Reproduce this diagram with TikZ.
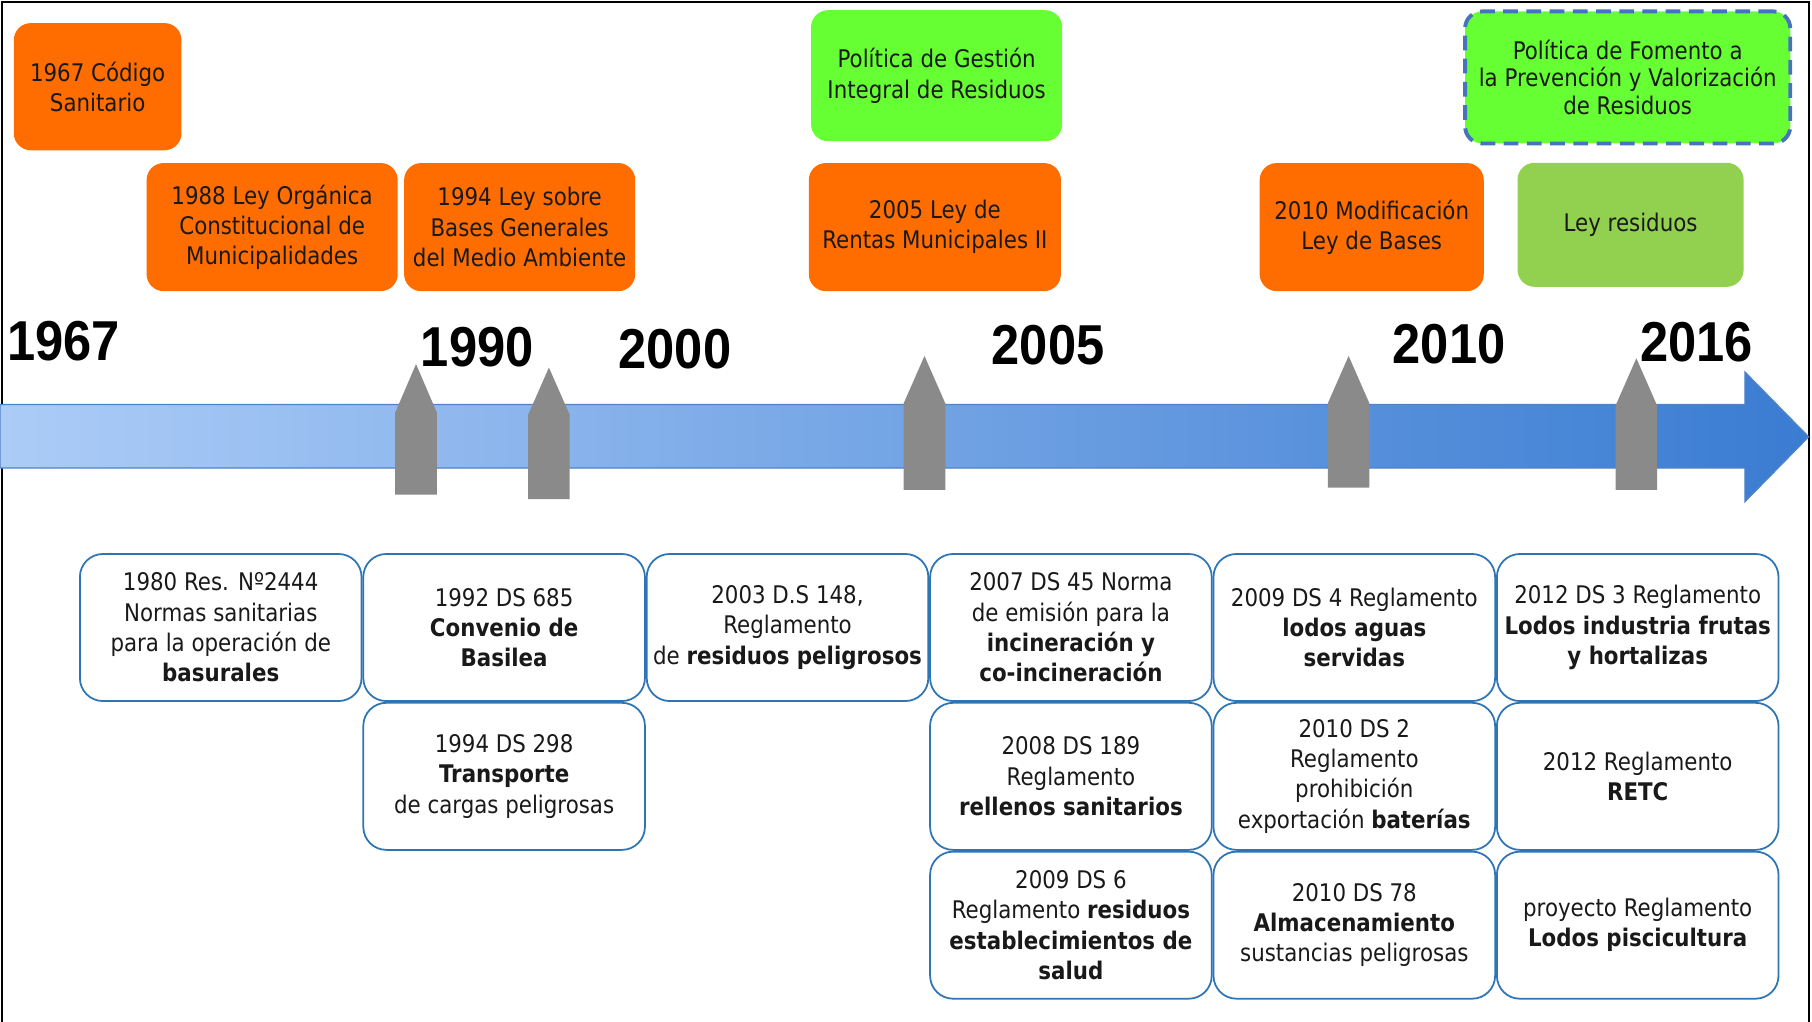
\documentclass[tikz,border=0pt]{standalone}
\usepackage{fontspec}
\setmainfont{DejaVu Sans}[FakeStretch=0.88]
\newfontfamily\yearfont{Liberation Sans}[FakeStretch=0.9]
\usetikzlibrary{positioning}
\definecolor{laworange}{RGB}{255,108,0}
\definecolor{polgreen}{RGB}{102,255,51}
\definecolor{leygreen}{RGB}{146,208,80}
\definecolor{boxblue}{RGB}{46,117,182}
\definecolor{dashblue}{RGB}{70,115,190}
\definecolor{arrowlight}{RGB}{172,204,247}
\definecolor{arrowdark}{RGB}{58,124,210}
\definecolor{arrowedge}{RGB}{80,130,200}
\definecolor{markgray}{RGB}{138,138,138}
\definecolor{txtdark}{RGB}{25,25,25}

\begin{document}
\begin{tikzpicture}[
    x=0.011556cm, y=-0.011556cm,
    topbox/.style={rectangle, rounded corners=0.17cm, fill=laworange, text=txtdark, align=center, inner sep=0pt, font=\fontsize{6.9}{8.6}\selectfont},
    normbox/.style={rectangle, rounded corners=0.23cm, draw=boxblue, line width=0.5pt, fill=white, text=txtdark, align=center, inner sep=0pt, minimum width=2.815cm, minimum height=1.47cm, font=\fontsize{6.9}{8.6}\selectfont},
    yearlabel/.style={inner sep=0pt, font=\yearfont\bfseries\fontsize{16}{16}\selectfont},
]
\useasboundingbox (0,0) rectangle (1568,884);
\draw[line width=0.6pt] (1.5,884) -- (1.5,1.5) -- (1565.5,1.5) -- (1565.5,884);

\shadedraw[left color=arrowlight, right color=arrowdark, draw=arrowedge, line width=0.4pt] (0,350) -- (1510,350) -- (1510,322) -- (1565,378) -- (1510,434) -- (1510,405) -- (0,405) -- cycle;

\fill[markgray] (342,357) -- (360,315) -- (378,357) -- (378,428) -- (342,428) -- cycle;
\fill[markgray] (457,359) -- (475,318) -- (493,359) -- (493,432) -- (457,432) -- cycle;
\fill[markgray] (782,349) -- (800,308) -- (818,349) -- (818,424) -- (782,424) -- cycle;
\fill[markgray] (1149,349) -- (1167,308) -- (1185,349) -- (1185,422) -- (1149,422) -- cycle;
\fill[markgray] (1398,351) -- (1416,310) -- (1434,351) -- (1434,424) -- (1398,424) -- cycle;

\node[yearlabel](y1967) at (55,295) {1967};
\node[yearlabel](y1990) at (413,300) {1990};
\node[yearlabel](y2000) at (584,302) {2000};
\node[yearlabel](y2005) at (907,299) {2005};
\node[yearlabel](y2010) at (1254,298) {2010};
\node[yearlabel](y2016) at (1468,296) {2016};

\node[topbox, minimum width=1.676cm, minimum height=1.271cm](cod67) at (84.5,75) {1967 Código\\Sanitario};
\node[topbox, minimum width=2.51cm, minimum height=1.28cm](loc88) at (235.5,196.5) {1988 Ley Orgánica\\Constitucional de\\Municipalidades};
\node[topbox, minimum width=2.31cm, minimum height=1.28cm](lbma94)[right = 0.05cm of loc88] {1994 Ley sobre\\Bases Generales\\del Medio Ambiente};
\node[topbox, fill=polgreen, minimum width=2.51cm, minimum height=1.31cm](pgir) at (810.5,65.5) {Política de Gestión\\Integral de Residuos};
\node[topbox, minimum width=2.52cm, minimum height=1.28cm](rentas05) at (809,196.5) {2005 Ley de\\Rentas Municipales II};
\node[topbox, minimum width=2.24cm, minimum height=1.28cm](modbases10) at (1187,196.5) {2010 Modificación\\Ley de Bases};
\node[topbox, fill=leygreen, minimum width=2.26cm, minimum height=1.24cm](leyres) at (1411,194.5) {Ley residuos};
\node[topbox, fill=polgreen, draw=dashblue, line width=1.1pt, dash pattern=on 4.2pt off 2.4pt, minimum width=3.25cm, minimum height=1.32cm, font=\fontsize{6.9}{7.8}\selectfont](pfpv) at (1408.5,67) {Política de Fomento a\\la Prevención y Valorización\\de Residuos};

\node[normbox](res80) at (191,543) {1980 Res. Nº2444\\Normas sanitarias\\para la operación de\\\textbf{basurales}};
\node[normbox](ds685)[right = 0cm of res80] {1992 DS 685\\\textbf{Convenio de}\\\textbf{Basilea}};
\node[normbox](ds148)[right = 0cm of ds685] {2003 D.S 148,\\Reglamento\\de \textbf{residuos peligrosos}};
\node[normbox](ds45)[right = 0cm of ds148] {2007 DS 45 Norma\\de emisión para la\\\textbf{incineración y}\\\textbf{co-incineración}};
\node[normbox](ds4)[right = 0cm of ds45] {2009 DS 4 Reglamento\\\textbf{lodos aguas}\\\textbf{servidas}};
\node[normbox](ds3)[right = 0cm of ds4] {2012 DS 3 Reglamento\\\textbf{Lodos industria frutas}\\\textbf{y hortalizas}};
\node[normbox](ds298)[below = 0cm of ds685] {1994 DS 298\\\textbf{Transporte}\\de cargas peligrosas};
\node[normbox](ds189)[below = 0cm of ds45] {2008 DS 189\\Reglamento\\\textbf{rellenos sanitarios}};
\node[normbox](ds2)[below = 0cm of ds4] {2010 DS 2\\Reglamento\\prohibición\\exportación \textbf{baterías}};
\node[normbox](retc)[below = 0cm of ds3] {2012 Reglamento\\\textbf{RETC}};
\node[normbox](ds6)[below = 0cm of ds189] {2009 DS 6\\Reglamento \textbf{residuos}\\\textbf{establecimientos de}\\\textbf{salud}};
\node[normbox](ds78)[below = 0cm of ds2] {2010 DS 78\\\textbf{Almacenamiento}\\sustancias peligrosas};
\node[normbox](lodospisc)[below = 0cm of retc] {proyecto Reglamento\\\textbf{Lodos piscicultura}};
\end{tikzpicture}
\end{document}
